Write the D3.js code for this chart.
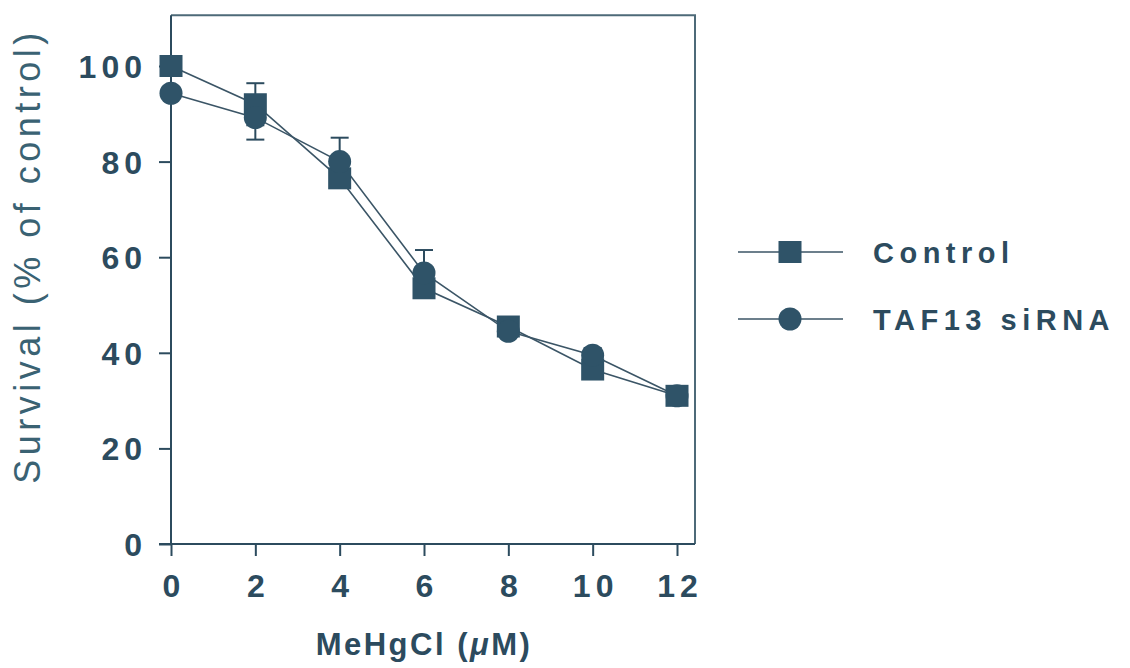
<!DOCTYPE html>
<html>
<head>
<meta charset="utf-8">
<script src="https://cdn.jsdelivr.net/npm/d3@7"></script>
<style>
  body { margin: 0; background: #fff; }
  svg { display: block; font-family: "Liberation Sans", Arial, Helvetica, sans-serif; }
</style>
</head>
<body>
<svg width="1130" height="668"></svg>
<script>
const doses = [0, 2, 4, 6, 8, 10, 12]
const controlMean = [100, 92, 76.5, 53.5, 45.5, 36.5, 31]
const controlErr = [0.5, 4.4, 2, 2, 1, 1.5, 1]
const tafMean = [94.3, 89.2, 80, 56.7, 44.5, 39.5, 31]
const tafErr = [1, 4.6, 5, 4.8, 1, 1.5, 1]
const yTicks = [0, 20, 40, 60, 80, 100]
const xTicks = [0, 2, 4, 6, 8, 10, 12]
const seriesNames = ["Control", "TAF13 siRNA"]

const ink = "#2c4b5e"
const markFill = "#2f5368"

const svg = d3.select("svg")

const x = d3.scaleLinear().domain([0, 12]).range([171, 677])
const y = d3.scaleLinear().domain([0, 100]).range([544, 66])
const frameRight = 695
const frameTop = y(110.6)

const series = [
  { name: seriesNames[0], mean: controlMean, err: controlErr, shape: "square" },
  { name: seriesNames[1], mean: tafMean, err: tafErr, shape: "circle" },
]

// frame top + right
svg.append("path")
  .attr("d", `M${x(0)},${frameTop}H${frameRight}V${y(0)}`)
  .attr("fill", "none")
  .attr("stroke", "#4d6a78")
  .attr("stroke-width", 2)

// axes
const yAxis = d3.axisLeft(y).tickValues(yTicks).tickSize(12).tickSizeOuter(0).tickPadding(12)
const xAxis = d3.axisBottom(x).tickValues(xTicks).tickSize(12).tickSizeOuter(0).tickPadding(18)

const gy = svg.append("g").attr("transform", `translate(${x(0)},0)`).call(yAxis)
const gx = svg.append("g").attr("transform", `translate(0,${y(0)})`).call(xAxis)

;[gx, gy].forEach((g) => {
  g.select(".domain").remove()
  g.selectAll("line").attr("stroke", ink).attr("stroke-width", 2)
  g.selectAll("text")
    .attr("fill", ink)
    .style("font-size", "32px")
    .style("font-weight", "bold")
    .style("letter-spacing", "5px")
})
gy.selectAll("text").attr("dy", "0.36em")
gx.selectAll("text").attr("dx", 2.5)

svg.append("line")
  .attr("x1", x(0)).attr("x2", x(0))
  .attr("y1", frameTop).attr("y2", y(0))
  .attr("stroke", ink).attr("stroke-width", 2)
svg.append("line")
  .attr("x1", x(0) - 12).attr("x2", frameRight)
  .attr("y1", y(0)).attr("y2", y(0))
  .attr("stroke", ink).attr("stroke-width", 2)

// axis titles
svg.append("text")
  .attr("transform", `translate(40,256) rotate(-90)`)
  .attr("text-anchor", "middle")
  .attr("fill", "#3a6273")
  .style("font-size", "36px")
  .style("letter-spacing", "4.5px")
  .text("Survival (% of control)")

const xt = svg.append("text")
  .attr("x", 424)
  .attr("y", 655)
  .attr("text-anchor", "middle")
  .attr("fill", ink)
  .style("font-size", "31px")
  .style("font-weight", "bold")
  .style("letter-spacing", "2.5px")
xt.append("tspan").text("MeHgCl (")
xt.append("tspan").style("font-style", "italic").text("\u03bc")
xt.append("tspan").text("M)")

const line = d3.line().x((d, i) => x(doses[i])).y((d) => y(d))

// lines
series.forEach((s) => {
  svg.append("path")
    .datum(s.mean)
    .attr("d", line)
    .attr("fill", "none")
    .attr("stroke", "#3b5566")
    .attr("stroke-width", 1.6)
})

// error bars
series.forEach((s) => {
  const g = svg.append("g").attr("stroke", ink).attr("stroke-width", 2)
  s.mean.forEach((m, i) => {
    const cx = x(doses[i])
    g.append("line").attr("x1", cx).attr("x2", cx).attr("y1", y(m - s.err[i])).attr("y2", y(m + s.err[i]))
    g.append("line").attr("x1", cx - 9).attr("x2", cx + 9).attr("y1", y(m + s.err[i])).attr("y2", y(m + s.err[i]))
    g.append("line").attr("x1", cx - 9).attr("x2", cx + 9).attr("y1", y(m - s.err[i])).attr("y2", y(m - s.err[i]))
  })
})

const drawMarker = (g, shape, cx, cy) => {
  if (shape === "square") {
    g.append("rect")
      .attr("x", cx - 11.5).attr("y", cy - 11)
      .attr("width", 23).attr("height", 22)
      .attr("fill", markFill)
  } else {
    g.append("circle")
      .attr("cx", cx).attr("cy", cy).attr("r", 11.5)
      .attr("fill", markFill)
  }
}

// markers
series.forEach((s) => {
  const g = svg.append("g")
  s.mean.forEach((m, i) => drawMarker(g, s.shape, x(doses[i]), y(m)))
})

// legend
series.forEach((s, i) => {
  const ly = 252 + i * 67
  const g = svg.append("g")
  g.append("line")
    .attr("x1", 738).attr("x2", 843)
    .attr("y1", ly).attr("y2", ly)
    .attr("stroke", "#3b5566").attr("stroke-width", 1.6)
  drawMarker(g, s.shape, 790, ly)
  g.append("text")
    .attr("x", 873)
    .attr("y", ly + 11)
    .attr("fill", ink)
    .style("font-size", "29px")
    .style("font-weight", "bold")
    .style("letter-spacing", "5.5px")
    .text(s.name)
})
</script>
</body>
</html>
